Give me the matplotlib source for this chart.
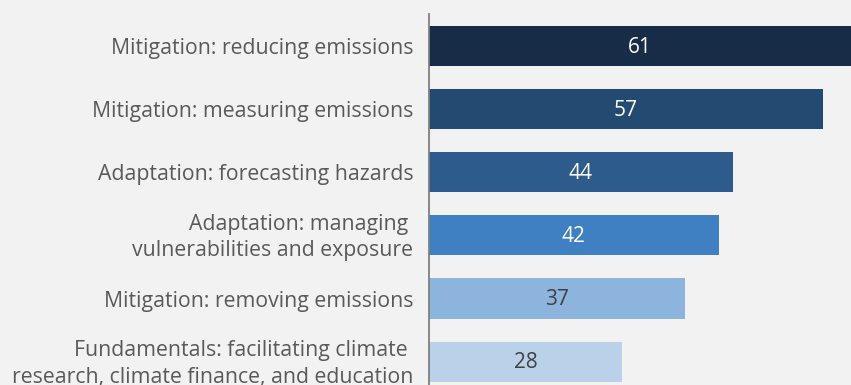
import matplotlib
matplotlib.use('Agg')
import matplotlib.pyplot as plt
import matplotlib.transforms as mtransforms

plt.rcParams['font.family'] = ['Open Sans', 'DejaVu Sans']

categories = ['Mitigation: reducing emissions',
              'Mitigation: measuring emissions',
              'Adaptation: forecasting hazards',
              'Adaptation: managing \nvulnerabilities and exposure',
              'Mitigation: removing emissions',
              'Fundamentals: facilitating climate \nresearch, climate finance, and education']
values = [61, 57, 44, 42, 37, 28]
colors = ['#172c46', '#234a70', '#2d5b8c', '#3e80c2', '#8db4dc', '#bad1ea']
label_colors = ['white', 'white', 'white', 'white', '#404040', '#404040']

bg = '#f2f2f2'
fig = plt.figure(figsize=(8.51, 3.85), dpi=100, facecolor=bg)
ax = fig.add_axes([428.5/851, 0, 1 - 428.5/851, 1 - 14/385])
ax.set_facecolor(bg)

ypos = list(range(len(values)))
ax.barh(ypos, values, height=0.635, color=colors)
for y, v, c in zip(ypos, values, label_colors):
    ax.text(v/2, y + 0.02, str(v), ha='center', va='center', color=c, fontsize=15)

ax.set_xlim(0, 61.05)
ax.set_ylim(5.37, -0.507)

# category labels drawn by hand so two-line ones can sit a touch higher
base = mtransforms.blended_transform_factory(ax.transAxes, ax.transData)
for y, lab in zip(ypos, categories):
    dy = 3/100 if '\n' in lab else 0
    tr = base + mtransforms.ScaledTranslation(-15/100, dy, fig.dpi_scale_trans)
    ax.text(0, y, lab, transform=tr, ha='right', va='center_baseline',
            fontsize=15.3, color='#595959', linespacing=1.34)

ax.set_yticks([])
ax.set_xticks([])
for s in ['top', 'right', 'bottom']:
    ax.spines[s].set_visible(False)
ax.spines['left'].set_color('#7f7f7f')
ax.spines['left'].set_linewidth(1.3)

plt.savefig('out.png', dpi=100, facecolor=bg)
